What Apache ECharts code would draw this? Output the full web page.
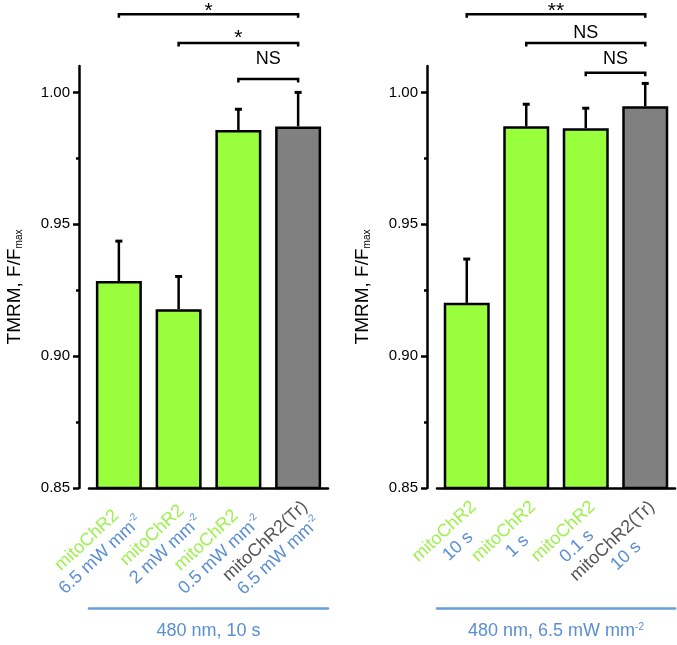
<!DOCTYPE html>
<html><head><meta charset="utf-8">
<script src="https://cdn.jsdelivr.net/npm/echarts@6/dist/echarts.min.js"></script>
<style>html,body{margin:0;padding:0;background:#fff}#c{width:677px;height:645px}</style>
</head><body><div id="c"></div>
<script>
// ---- data ----
const leftStrain = ['mitoChR2', 'mitoChR2', 'mitoChR2', 'mitoChR2(Tr)'];
const leftCond = ['6.5 mW mm', '2 mW mm', '0.5 mW mm', '6.5 mW mm'];
const leftCondSup = ['-2', '-2', '-2', '-2'];
const leftMeans = [0.9285, 0.9178, 0.9857, 0.9871];
const leftErr = [0.0151, 0.0124, 0.0079, 0.0129];

const rightStrain = ['mitoChR2', 'mitoChR2', 'mitoChR2', 'mitoChR2(Tr)'];
const rightCond = ['10 s', '1 s', '0.1 s', '10 s'];
const rightCondSup = ['', '', '', ''];
const rightMeans = [0.9202, 0.9872, 0.9864, 0.9947];
const rightErr = [0.0166, 0.0083, 0.0076, 0.0087];

const isControl = [false, false, false, true];

// brackets: [fromIndex, toIndex, lineValue, labelValue]
const leftBrackets = [[0, 3, 1.0296, 1.0309], [1, 3, 1.0187, 1.0207], [2, 3, 1.0051, 1.0126]];
const leftBracketLabels = ['*', '*', 'NS'];
const rightBrackets = [[0, 3, 1.0296, 1.0309], [1, 3, 1.0187, 1.0226], [2, 3, 1.0074, 1.0126]];
const rightBracketLabels = ['**', 'NS', 'NS'];

const yTicks = [0.85, 0.90, 0.95, 1.00];
const yMinorTicks = [0.875, 0.925, 0.975];
const yMin = 0.85, yMax = 1.01;
const yName = 'TMRM, F/F';
const yNameSub = 'max';
const leftGroupTitle = '480 nm, 10 s';
const rightGroupTitle = '480 nm, 6.5 mW mm';
const rightGroupTitleSup = '-2';

// ---- styles ----
const FONT = '"Liberation Sans", Arial, sans-serif';
const GREEN = '#99FF3C';
const GREEN_TXT = '#9EF04E';
const GRAY = '#808080';
const GRAY_TXT = '#555555';
const BLUE = '#5B8ED4';
const BLUE_LINE = '#6A9EDA';

function cats(strain) { return strain.map((s, i) => String(i)); }

function labelFormatter(strain, cond, sup) {
  return function (v) {
    const i = +v;
    const top = isControl[i] ? '{k|' + strain[i] + '}' : '{g|' + strain[i] + '}';
    let bot = '{b|' + cond[i] + '}';
    if (sup[i]) bot += '{s|' + sup[i] + '}';
    return top + '\n' + bot;
  };
}

const labelRich = {
  g: { color: GREEN_TXT, fontSize: 18, fontFamily: FONT, lineHeight: 20, align: 'center' },
  k: { color: GRAY_TXT, fontSize: 18, fontFamily: FONT, lineHeight: 20, align: 'center' },
  b: { color: BLUE, fontSize: 18, fontFamily: FONT, lineHeight: 20, align: 'center' },
  s: { color: BLUE, fontSize: 10, fontFamily: FONT, lineHeight: 20, align: 'center', verticalAlign: 'top' }
};

function xAxes(gridIndex, strain, cond, sup, title, titleSup) {
  return [{
    type: 'category', gridIndex: gridIndex, data: cats(strain), z: 10,
    axisLine: { lineStyle: { color: '#000', width: 2.5 } },
    axisTick: { show: false },
    axisLabel: {
      interval: 0, rotate: 43, margin: 9, align: 'right', verticalAlign: 'top',
      formatter: labelFormatter(strain, cond, sup), rich: labelRich
    }
  }, {
    type: 'category', gridIndex: gridIndex, data: cats(strain), position: 'bottom', offset: 120,
    axisLine: { lineStyle: { color: BLUE_LINE, width: 2.5 } },
    axisTick: { show: false }, axisLabel: { show: false },
    name: titleSup ? title + '{s|' + titleSup + '}' : title,
    nameLocation: 'middle', nameGap: 14,
    nameTextStyle: {
      color: BLUE, fontSize: 18, fontFamily: FONT, verticalAlign: 'top',
      rich: { s: { color: BLUE, fontSize: 10, fontFamily: FONT, verticalAlign: 'top' } }
    }
  }];
}

function yAxes(gridIndex) {
  return [{
    type: 'value', gridIndex: gridIndex, min: yMin, max: yMax, offset: 10, position: 'left',
    axisLine: { show: true, lineStyle: { color: '#000', width: 2.5 } },
    axisTick: { show: true, length: 6, customValues: yTicks, lineStyle: { color: '#000', width: 2.5 } },
    axisLabel: { customValues: yTicks, margin: 9, color: '#000', fontSize: 15, fontFamily: FONT,
      formatter: v => v.toFixed(2) },
    splitLine: { show: false },
    name: yName + '{s|' + yNameSub + '}', nameLocation: 'middle', nameGap: 55, nameRotate: 90,
    nameTextStyle: { color: '#000', fontSize: 19, fontFamily: FONT, padding: [0, 20, 0, 0],
      rich: { s: { color: '#000', fontSize: 10, fontFamily: FONT, verticalAlign: 'bottom' } } }
  }, {
    type: 'value', gridIndex: gridIndex, min: yMin, max: yMax, offset: 10, position: 'left',
    axisLine: { show: false },
    axisTick: { show: true, length: 3, customValues: yMinorTicks, lineStyle: { color: '#000', width: 2.5 } },
    axisLabel: { show: false }, splitLine: { show: false }
  }];
}

function barSeries(xi, yi, means) {
  return {
    type: 'bar', xAxisIndex: xi, yAxisIndex: yi, barWidth: 46, z: 2,
    data: means.map((m, i) => ({ value: m, itemStyle: { color: isControl[i] ? GRAY : GREEN } })),
    itemStyle: { borderColor: '#000', borderWidth: 2.5 }
  };
}

function errSeries(xi, yi, means, errs) {
  return {
    type: 'custom', xAxisIndex: xi, yAxisIndex: yi, z: 1, clip: false,
    data: means.map((m, i) => [i, m, errs[i]]),
    renderItem: function (params, api) {
      const i = api.value(0), m = api.value(1), e = api.value(2);
      const p1 = api.coord([i, m]);
      const p2 = api.coord([i, m + e]);
      const st = { stroke: '#000', lineWidth: 2.5 };
      return { type: 'group', children: [
        { type: 'line', shape: { x1: p1[0], y1: p1[1], x2: p2[0], y2: p2[1] }, style: st },
        { type: 'line', shape: { x1: p2[0] - 3.5, y1: p2[1], x2: p2[0] + 3.5, y2: p2[1] }, style: { stroke: '#000', lineWidth: 3 } }
      ] };
    }
  };
}

function bracketSeries(xi, yi, brackets, labels) {
  return {
    type: 'custom', xAxisIndex: xi, yAxisIndex: yi, z: 5, clip: false,
    data: brackets,
    renderItem: function (params, api) {
      const a = api.value(0), b = api.value(1), v = api.value(2), lv = api.value(3);
      const pa = api.coord([a, v]), pb = api.coord([b, v]);
      const pl = api.coord([a, lv]);
      const txt = labels[params.dataIndex];
      return { type: 'group', children: [
        { type: 'polyline', shape: { points: [[pa[0], pa[1] + 3.5], [pa[0], pa[1]], [pb[0], pb[1]], [pb[0], pb[1] + 3.5]] },
          style: { stroke: '#000', lineWidth: 2.5, fill: null } },
        { type: 'text', style: { text: txt, x: (pa[0] + pb[0]) / 2, y: pl[1],
          align: 'center', verticalAlign: 'middle', fontSize: txt === 'NS' ? 18 : 21, fontFamily: FONT, fill: '#000' } }
      ] };
    }
  };
}

const chart = echarts.init(document.getElementById('c'), null, { renderer: 'canvas' });
chart.setOption({
  backgroundColor: '#fff',
  animation: false,
  grid: [
    { left: 89, width: 239, top: 66, bottom: 155 },
    { left: 437, width: 238, top: 66, bottom: 155 }
  ],
  xAxis: [].concat(
    xAxes(0, leftStrain, leftCond, leftCondSup, leftGroupTitle, ''),
    xAxes(1, rightStrain, rightCond, rightCondSup, rightGroupTitle, rightGroupTitleSup)
  ),
  yAxis: [].concat(yAxes(0), yAxes(1)),
  series: [
    barSeries(0, 0, leftMeans), errSeries(0, 0, leftMeans, leftErr), bracketSeries(0, 0, leftBrackets, leftBracketLabels),
    barSeries(2, 2, rightMeans), errSeries(2, 2, rightMeans, rightErr), bracketSeries(2, 2, rightBrackets, rightBracketLabels)
  ]
});
</script></body></html>
